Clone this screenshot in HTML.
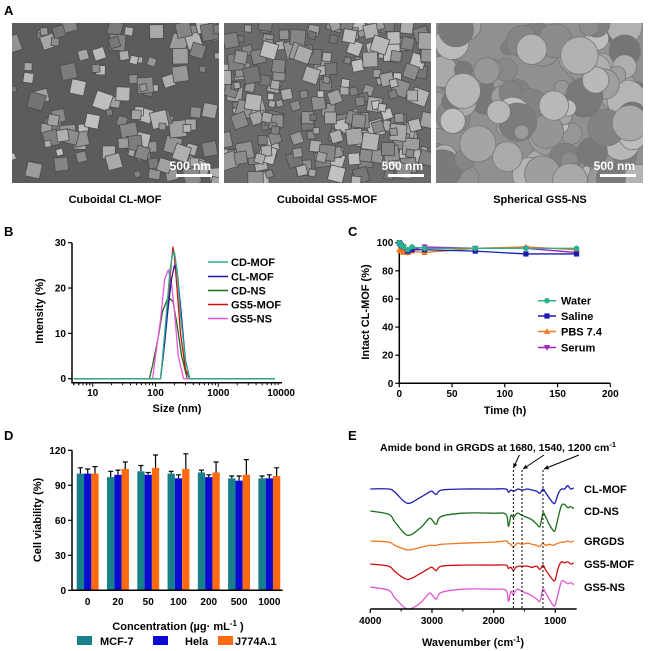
<!DOCTYPE html>
<html><head><meta charset="utf-8"><style>
html,body{margin:0;padding:0;background:#fff;}
svg{display:block;font-family:"Liberation Sans",Arial,sans-serif;font-weight:bold;}
</style></head><body>
<svg id="fig" width="652" height="651" viewBox="0 0 652 651" xmlns="http://www.w3.org/2000/svg">
<g id="panelA">
  <text x="4" y="15" font-size="13">A</text>
  <g id="sem1"></g>
  <g id="sem2"></g>
  <g id="sem3"></g>
  <text x="115" y="203" font-size="11" text-anchor="middle">Cuboidal CL-MOF</text>
  <text x="327" y="203" font-size="11" text-anchor="middle">Cuboidal GS5-MOF</text>
  <text x="540" y="203" font-size="11" text-anchor="middle">Spherical GS5-NS</text>
</g>
<g id="panelB"><text x="4" y="236" font-size="13">B</text></g>
<g id="panelC"><text x="348" y="236" font-size="13">C</text></g>
<g id="panelD"><text x="4" y="440" font-size="13">D</text></g>
<g id="panelE"><text x="348" y="440" font-size="13">E</text></g>
</svg>
<script>
// ---------- Panel B data ----------
const bNames = ["CD-MOF","CL-MOF","CD-NS","GS5-MOF","GS5-NS"];
const bColors = ["#2bb089","#1a1aa8","#1a6e1a","#d01010","#ee55dd"];
const bSizeCDMOF = [5,120,130,150,170,190,200,220,250,300,350,8000];
const bValCDMOF  = [0,0,5,15,24,28,28,24,14,4,0,0];
const bSizeCLMOF = [5,120,135,160,180,200,220,250,300,350,8000];
const bValCLMOF  = [0,0,6,16,22,25,24,16,4,0,0];
const bSizeCDNS  = [5,80,90,110,130,160,190,220,260,320,8000];
const bValCDNS   = [0,0,3,9,15,18,17,12,5,0,0];
const bSizeGSMOF = [5,120,140,160,180,190,200,220,250,300,350,8000];
const bValGSMOF  = [0,0,8,18,26,29,27,20,10,2,0,0];
const bSizeGSNS  = [5,90,100,120,140,160,180,200,230,280,8000];
const bValGSNS   = [0,0,5,13,22,24,21,15,5,0,0];
const bYTicks = [0,10,20,30];
const bXTicks = [10,100,1000,10000];
// ---------- Panel C data ----------
const cTimes = [0,1,2,4,8,12,24,72,120,168];
const cWater = [100,99,98,97,95,97,96,96,96,96];
const cSaline = [100,99,98,97,94,95,95,94,92,92];
const cPBS = [95,94,94,93,93,94,93,96,97,95];
const cSerum = [98,97,96,95,93,95,97,96,96,93];
const cSerumErr = [0,0,0,0,0,0,2,1,0,0];
const cYTicks = [0,20,40,60,80,100];
const cXTicks = [0,50,100,150,200];
// ---------- Panel D data ----------
const dCats = ["0","20","50","100","200","500","1000"];
const dMCF = [100,97,102,100,101,96,96];
const dMCFErr = [5,5,5,2,2,2,2];
const dHela = [100,99,99,96,97,94,96];
const dHelaErr = [4,4,2,3,2,4,3];
const dJ774 = [100,104,105,104,101,99,98];
const dJ774Err = [6,6,11,13,9,13,7];
const dYTicks = [0,30,60,90,120];
// ---------- Panel E data ----------
const eWn = [4000,3700,3600,3400,3200,3050,3000,2930,2850,2500,2000,1800,1760,1720,1680,1640,1600,1540,1450,1380,1300,1250,1200,1160,1100,1030,1000,950,900,850,800,750,700];
const eCLMOF = [0,0,-3,-13,-8,-3,-2,-5,-1,0,0,0,-3,-1,-2,-1,0,-1,0,-1,-2,-4,0,-3,-8,-13,-12,-4,0,0,3,0,1];
const eCDNS  = [0,-3,-10,-22,-16,-7,-8,-12,-5,-2,-2,-3,-14,-4,-6,-3,-2,-4,-6,-8,-12,-14,-2,-5,-12,-18,-17,-5,5,6,3,4,2];
const eGRGDS = [0,-1,-4,-8,-6,-4,-4,-4,-3,-2,-1,0,-2,-3,-6,-3,-2,-3,-2,-3,-4,-5,-2,-4,-3,-4,-3,-2,-1,-1,0,-1,0];
const eGSMOF = [0,-2,-7,-14,-9,-4,-3,-6,-2,-1,-1,-1,-4,-3,-6,-3,-2,-2,-2,-3,-2,-5,-1,-5,-10,-15,-14,-3,2,1,2,0,1];
const eGSNS  = [0,-3,-10,-20,-15,-6,-7,-11,-5,-2,-2,-3,-13,-4,-7,-3,-2,-4,-6,-8,-11,-13,-2,-5,-11,-17,-16,-5,5,5,3,4,2];
const eNames = ["CL-MOF","CD-NS","GRGDS","GS5-MOF","GS5-NS"];
const eXTicks = [4000,3000,2000,1000];
const eAmide = [1680,1540,1200];

const NS="http://www.w3.org/2000/svg";
function mk(parent,tag,attrs,text){const e=document.createElementNS(NS,tag);for(const k in attrs)e.setAttribute(k,attrs[k]);if(text!==undefined)e.textContent=text;parent.appendChild(e);return e;}
function smooth(pts){let d=`M${pts[0][0].toFixed(1)},${pts[0][1].toFixed(1)}`;
  for(let i=0;i<pts.length-1;i++){const p0=pts[Math.max(0,i-1)],p1=pts[i],p2=pts[i+1],p3=pts[Math.min(pts.length-1,i+2)];
    const c1x=p1[0]+(p2[0]-p0[0])/6,c1y=p1[1]+(p2[1]-p0[1])/6,c2x=p2[0]-(p3[0]-p1[0])/6,c2y=p2[1]-(p3[1]-p1[1])/6;
    d+=`C${c1x.toFixed(1)},${c1y.toFixed(1)} ${c2x.toFixed(1)},${c2y.toFixed(1)} ${p2[0].toFixed(1)},${p2[1].toFixed(1)}`;}
  return d;}

// ---------- Panel A SEM textures ----------
let seed=7;function rnd(){seed=(seed*16807)%2147483647;return seed/2147483647;}
function sem(id,x0,kind,bg){
  const g=document.getElementById(id);
  const r=mk(g,'rect',{x:x0,y:23,width:207,height:160,fill:bg});
  
  
  const n = kind==='sphere'?110:(kind==='dense'?220:110);
  for(let i=0;i<n;i++){
    const s = kind==='sphere'? 7+rnd()*13 : 6+rnd()*11;
    const cx=x0+rnd()*207, cy=23+rnd()*160;
    const shade=Math.floor(115+rnd()*80);
    const col=`rgb(${shade},${shade},${shade})`;
    let el;
    if(kind==='sphere') el=mk(g,'circle',{cx:cx,cy:cy,r:s,fill:col,stroke:'#777','stroke-width':0.8});
    else el=mk(g,'rect',{x:cx-s/2,y:cy-s/2,width:s,height:s,fill:col,stroke:'#4a4a4a','stroke-width':0.8,transform:`rotate(${rnd()*40-20} ${cx} ${cy})`});
    
    
  }
  const cp=mk(g,'clipPath',{id:id+'c'});mk(cp,'rect',{x:x0,y:23,width:207,height:160});
  g.setAttribute('clip-path',`url(#${id}c)`);
  const t=mk(g,'text',{x:x0+199,y:170,'font-size':12,fill:'#fff','text-anchor':'end'},'500 nm');
  
  
  const b=mk(g,'rect',{x:x0+164,y:174,width:36,height:3,fill:'#fff'});
  
  
}
sem('sem1',12,'sparse','#5c5c5c');
sem('sem2',224,'dense','#6a6a6a');
sem('sem3',436,'sphere','#909090');

// ---------- Panel B ----------
(function(){
  const g=document.getElementById('panelB');
  const x0=72,dec=62.8,x10=92.7,yb=378.7,yt=242.7;
  const X=v=>x10+(Math.log10(v)-1)*dec, Y=v=>yb-(v/30)*(yb-yt);
  let a=mk(g,'path',{d:`M${x0},${yt} V${382.7} H282`,stroke:'#000','stroke-width':1.5,fill:'none'});
  
  bYTicks.forEach(t=>{mk(g,'line',{x1:x0-4,x2:x0,y1:Y(t),y2:Y(t),stroke:'#000','stroke-width':1.2});
    const l=mk(g,'text',{x:x0-6,y:Y(t)+3.5,'font-size':10,'text-anchor':'end'},t);
    });
  for(let d=0;d<4;d++)for(let m=1;m<10;m++){const v=Math.pow(10,d)*m;const px=X(v);if(px<x0||px>282)continue;
    mk(g,'line',{x1:px,x2:px,y1:382.7,y2:382.7+(m===1?4:2.5),stroke:'#000','stroke-width':1});}
  for(let m=5;m<10;m++)mk(g,'line',{x1:X(m),x2:X(m),y1:382.7,y2:385.2,stroke:'#000','stroke-width':1});
  bXTicks.forEach(t=>{const l=mk(g,'text',{x:X(t),y:396,'font-size':10,'text-anchor':'middle'},t);
    });
  let tt=mk(g,'text',{x:177,y:412,'font-size':11,'text-anchor':'middle'},'Size (nm)');
  
  tt=mk(g,'text',{x:0,y:0,'font-size':11,'text-anchor':'middle',transform:'translate(43,311) rotate(-90)'},'Intensity (%)');
  
  const S=[bSizeCDMOF,bSizeCLMOF,bSizeCDNS,bSizeGSMOF,bSizeGSNS],V=[bValCDMOF,bValCLMOF,bValCDNS,bValGSMOF,bValGSNS];
  const order=[2,4,3,1,0];
  order.forEach(i=>{const p=S[i].map((s,k)=>X(s).toFixed(1)+','+Y(V[i][k]).toFixed(1)).join(' ');
    const l=mk(g,'polyline',{points:p,fill:'none',stroke:bColors[i],'stroke-width':1.3,'stroke-linejoin':'round'});
    });
  const ly=[262,276.5,290.5,304.5,318.5];
  bNames.forEach((n,i)=>{mk(g,'line',{x1:208,x2:228,y1:ly[i],y2:ly[i],stroke:bColors[i],'stroke-width':1.5});
    const t=mk(g,'text',{x:231,y:ly[i]+4,'font-size':11},n);
    });
})();

// ---------- Panel C ----------
(function(){
  const g=document.getElementById('panelC');
  const x0=399.3,x200=610.3,yb=383.3,yt=242.7;
  const X=v=>x0+v/200*(x200-x0), Y=v=>yb-v/100*(yb-yt);
  let a=mk(g,'path',{d:`M${x0},${yt} V${yb} H${x200}`,stroke:'#000','stroke-width':1.5,fill:'none'});
  
  cYTicks.forEach(t=>{mk(g,'line',{x1:x0-4,x2:x0,y1:Y(t),y2:Y(t),stroke:'#000','stroke-width':1.2});
    const l=mk(g,'text',{x:x0-6,y:Y(t)+3.5,'font-size':10,'text-anchor':'end'},t);
    });
  cXTicks.forEach(t=>{mk(g,'line',{x1:X(t),x2:X(t),y1:yb,y2:yb+4,stroke:'#000','stroke-width':1.2});
    const l=mk(g,'text',{x:X(t),y:397,'font-size':10,'text-anchor':'middle'},t);
    });
  let tt=mk(g,'text',{x:505,y:414,'font-size':11,'text-anchor':'middle'},'Time (h)');
  
  tt=mk(g,'text',{x:0,y:0,'font-size':11,'text-anchor':'middle',transform:'translate(369,312) rotate(-90)'},'Intact CL-MOF (%)');
  
  const series=[["Water",cWater,"#2bb089","circle"],["Saline",cSaline,"#1a1ab0","square"],["PBS 7.4",cPBS,"#f07820","tri"],["Serum",cSerum,"#a020c0","itri"]];
  function marker(px,py,type,col){
    if(type==='circle')return mk(g,'circle',{cx:px,cy:py,r:2.8,fill:col});
    if(type==='square')return mk(g,'rect',{x:px-2.6,y:py-2.6,width:5.2,height:5.2,fill:col});
    if(type==='tri')return mk(g,'path',{d:`M${px},${py-3.2}L${px+3.2},${py+2.4}L${px-3.2},${py+2.4}Z`,fill:col});
    return mk(g,'path',{d:`M${px},${py+3.2}L${px+3.2},${py-2.4}L${px-3.2},${py-2.4}Z`,fill:col});
  }
  [3,2,1,0].forEach(si=>{const [n,vals,col,type]=series[si];
    const l=mk(g,'polyline',{points:cTimes.map((t,k)=>X(t)+','+Y(vals[k])).join(' '),fill:'none',stroke:col,'stroke-width':1.3});
    
    cTimes.forEach((t,k)=>{const m=marker(X(t),Y(vals[k]),type,col);
      
      if(si===3&&cSerumErr[k]>0)mk(g,'line',{x1:X(t),x2:X(t),y1:Y(vals[k]+cSerumErr[k]),y2:Y(vals[k]-cSerumErr[k]),stroke:col,'stroke-width':1});});
  });
  const ly=[300.7,316,331.5,347.5];
  series.forEach((s,i)=>{mk(g,'line',{x1:538,x2:556,y1:ly[i],y2:ly[i],stroke:s[2],'stroke-width':1.5});
    marker(547,ly[i],s[3],s[2]);
    const t=mk(g,'text',{x:561,y:ly[i]+4,'font-size':11},s[0]);
    });
})();

// ---------- Panel D ----------
(function(){
  const g=document.getElementById('panelD');
  const x0=72,yb=590.3,yt=450.3,c0=87.7,step=30.27,bw=7.3;
  const Y=v=>yb-v/120*(yb-yt);
  const cols=["#17808a","#0a0ad0","#ff6a10"];
  const vals=[dMCF,dHela,dJ774],errs=[dMCFErr,dHelaErr,dJ774Err];
  dCats.forEach((c,i)=>{const cx=c0+i*step;
    for(let s=0;s<3;s++){const bx=cx+(s-1.5)*bw;
      const b=mk(g,'rect',{x:bx,y:Y(vals[s][i]),width:bw,height:yb-Y(vals[s][i]),fill:cols[s]});
      
      const mx=bx+bw/2,ty=Y(vals[s][i]+errs[s][i]);
      mk(g,'path',{d:`M${mx},${Y(vals[s][i])}V${ty}M${mx-2.5},${ty}H${mx+2.5}`,stroke:'#000','stroke-width':1.2,fill:'none'});}
    const l=mk(g,'text',{x:cx,y:605,'font-size':10,'text-anchor':'middle'},c);
    });
  let a=mk(g,'path',{d:`M${x0},${yt} V${yb} H282.7`,stroke:'#000','stroke-width':1.5,fill:'none'});
  
  dYTicks.forEach(t=>{mk(g,'line',{x1:x0-4,x2:x0,y1:Y(t),y2:Y(t),stroke:'#000','stroke-width':1.2});
    const l=mk(g,'text',{x:x0-6,y:Y(t)+3.5,'font-size':10,'text-anchor':'end'},t);
    });
  let tt=mk(g,'text',{x:178,y:630,'font-size':11,'text-anchor':'middle'});
  tt.innerHTML='Concentration (µg· mL<tspan dy="-4" font-size="8">-1</tspan><tspan dy="4"> )</tspan>';
  
  tt=mk(g,'text',{x:0,y:0,'font-size':11,'text-anchor':'middle',transform:'translate(41,520) rotate(-90)'},'Cell viability (%)');
  
  const leg=[["MCF-7",77,100],["Hela",153,185],["J774A.1",218,235]];
  leg.forEach((l,i)=>{const r=mk(g,'rect',{x:l[1],y:636,width:15,height:9,fill:cols[i]});
    
    const t=mk(g,'text',{x:l[2],y:645,'font-size':11},l[0]);
    });
})();

// ---------- Panel E ----------
(function(){
  const g=document.getElementById('panelE');
  const x4000=370.3,px1000=61.67/1000,yAx=609;
  const X=w=>x4000+(4000-w)*px1000;
  const base=[489,511,541,564,587];
  const cols=["#1a1ab0","#1a6e1a","#f07820","#d01010","#e055d0"];
  const data=[eCLMOF,eCDNS,eGRGDS,eGSMOF,eGSNS];
  data.forEach((d,i)=>{
    const pts=eWn.map((w,k)=>[X(w),base[i]-d[k]*1.1]);
    const l=mk(g,'path',{d:smooth(pts),fill:'none',stroke:cols[i],'stroke-width':1.3,'stroke-linejoin':'round'});
    
    const t=mk(g,'text',{x:584,y:base[i]+4,'font-size':11},eNames[i]);
    });
  eAmide.forEach((w,i)=>{const l=mk(g,'line',{x1:X(w),x2:X(w),y1:470,y2:yAx,stroke:'#000','stroke-width':1,'stroke-dasharray':'2,2'});
    });
  const arrows=[[X(1680)+6,455,X(1680),468],[X(1540)+22,455,X(1540)+1,469],[X(1200)+36,455,X(1200)+1,469]];
  arrows.forEach(a=>{mk(g,'line',{x1:a[0],y1:a[1],x2:a[2],y2:a[3],stroke:'#000','stroke-width':1});
    const ang=Math.atan2(a[3]-a[1],a[2]-a[0]);const L=5;
    mk(g,'path',{d:`M${a[2]},${a[3]}L${a[2]-L*Math.cos(ang-0.45)},${a[3]-L*Math.sin(ang-0.45)}L${a[2]-L*Math.cos(ang+0.45)},${a[3]-L*Math.sin(ang+0.45)}Z`,fill:'#000'});});
  let tt=mk(g,'text',{x:498,y:451,'font-size':10.5,'text-anchor':'middle'});
  tt.innerHTML='Amide bond in GRGDS at 1680, 1540, 1200 cm<tspan dy="-4" font-size="7.5">-1</tspan>';
  
  let a=mk(g,'line',{x1:370.3,x2:576.7,y1:yAx,y2:yAx,stroke:'#000','stroke-width':1.5});
  
  eXTicks.forEach(t=>{mk(g,'line',{x1:X(t),x2:X(t),y1:yAx,y2:yAx+4,stroke:'#000','stroke-width':1.2});
    const l=mk(g,'text',{x:X(t),y:624,'font-size':10,'text-anchor':'middle'},t);
    });
  for(let w=3500;w>650;w-=1000)mk(g,'line',{x1:X(w),x2:X(w),y1:yAx,y2:yAx+2.5,stroke:'#000','stroke-width':1});
  tt=mk(g,'text',{x:473,y:646,'font-size':11,'text-anchor':'middle'});
  tt.innerHTML='Wavenumber (cm<tspan dy="-4" font-size="8">-1</tspan><tspan dy="4">)</tspan>';
  
})();
</script>
</body></html>
